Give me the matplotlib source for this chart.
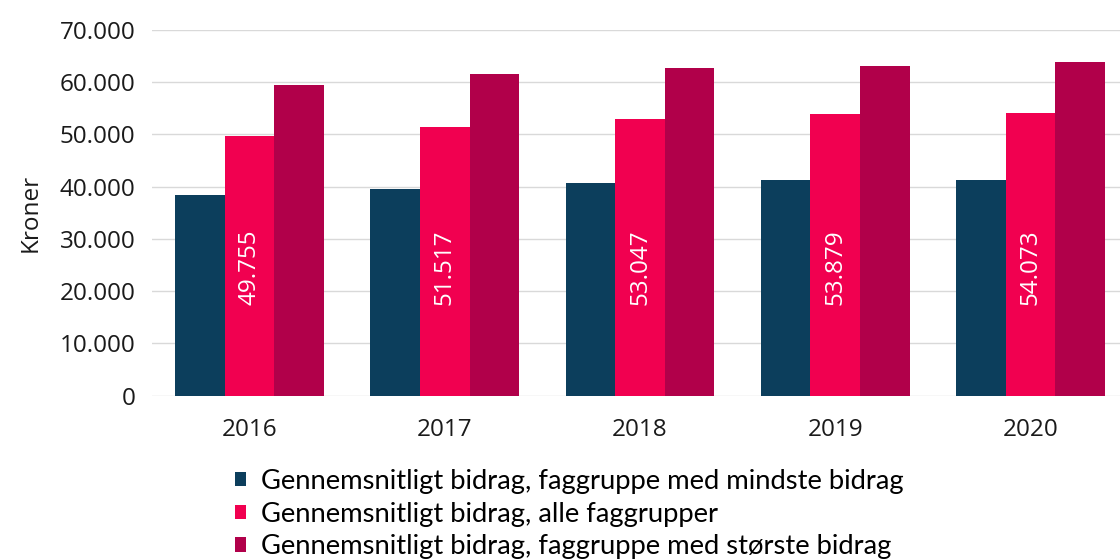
import matplotlib
matplotlib.use("Agg")
import matplotlib.pyplot as plt
import numpy as np
from matplotlib.ticker import FuncFormatter

years = ["2016", "2017", "2018", "2019", "2020"]
mindste = [38400, 39500, 40800, 41300, 41300]
alle = [49755, 51517, 53047, 53879, 54073]
stoerste = [59400, 61600, 62800, 63200, 63900]
series_names = [
    "Gennemsnitligt bidrag, faggruppe med mindste bidrag",
    "Gennemsnitligt bidrag, alle faggrupper",
    "Gennemsnitligt bidrag, faggruppe med største bidrag",
]
colors = ["#0c3e5c", "#f10050", "#b1004a"]

plt.rcParams['font.family'] = ['Open Sans', 'DejaVu Sans']

fig = plt.figure(figsize=(11.2, 5.6), dpi=100)
ax = fig.add_axes([152 / 1120, 1 - 395.7 / 560, 976 / 1120, 365.7 / 560])

x = np.arange(len(years))
w = 0.254
b1 = ax.bar(x - w, mindste, w, color=colors[0], label=series_names[0])
b2 = ax.bar(x, alle, w, color=colors[1], label=series_names[1])
b3 = ax.bar(x + w, stoerste, w, color=colors[2], label=series_names[2])

# værdier inde i de lyserøde søjler
for xi, v in zip(x, alle):
    ax.text(xi, 17400, f"{v:,}".replace(",", "."), rotation=90, ha="center",
            va="bottom", color="white", fontsize=17.5)

ax.set_ylim(0, 70000)
ax.set_xlim(-0.5, len(years) - 0.5)
ax.set_yticks(np.arange(0, 70001, 10000))
ax.yaxis.set_major_formatter(FuncFormatter(lambda v, p: f"{int(v):,}".replace(",", ".")))
ax.set_xticks(x)
ax.set_xticklabels(years)
ax.tick_params(axis="both", length=0, labelsize=17.5, colors="#1a1a1a")
ax.tick_params(axis="x", pad=16)
ax.tick_params(axis="y", pad=12)
ax.grid(axis="y", color="#d9d9d9", linewidth=1)
ax.set_axisbelow(True)
for s in ax.spines.values():
    s.set_visible(False)
ax.set_ylabel("Kroner", fontsize=17.5, color="#1a1a1a", labelpad=12)

fig.legend(handles=[b1, b2, b3], loc="upper left", bbox_to_anchor=(224 / 1120, 1 - 458 / 560),
           frameon=False, handlelength=0.42, handleheight=0.42,
           handletextpad=0.55, labelspacing=0.28, borderaxespad=0,
           prop={"family": ["Lato", "DejaVu Sans"], "size": 19.7})

fig.savefig("out.png", dpi=100)
